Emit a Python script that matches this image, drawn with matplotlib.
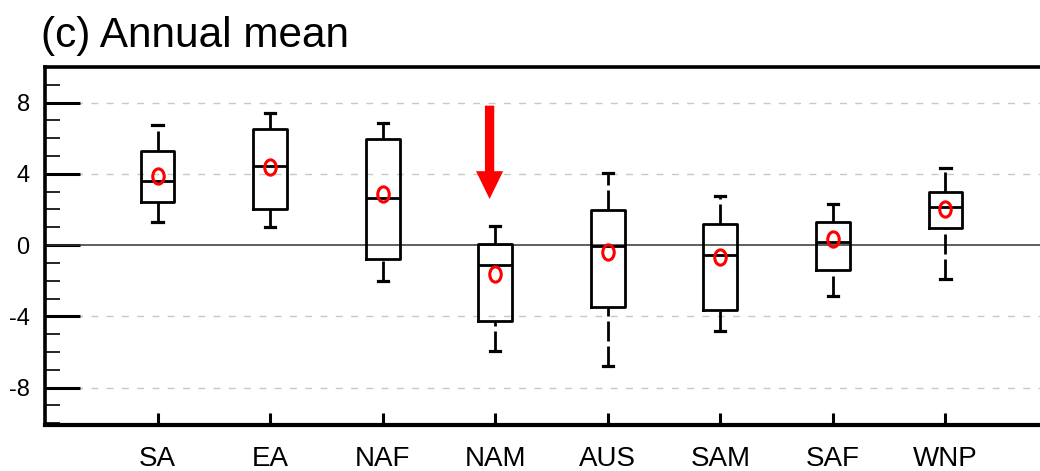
import matplotlib
matplotlib.use("Agg")
import matplotlib.pyplot as plt
import numpy as np
from matplotlib.path import Path
from matplotlib.patches import FancyArrowPatch
from matplotlib.transforms import Affine2D
from matplotlib.ticker import MultipleLocator

# ---------- Data ----------
regions = ["SA", "EA", "NAF", "NAM", "AUS", "SAM", "SAF", "WNP"]
whis_lo = [1.31, 1.03, -1.99, -5.93, -6.76, -4.85, -2.87, -1.93]
q1 = [2.44, 2.03, -0.79, -4.26, -3.47, -3.62, -1.41, 0.96]
median = [3.60, 4.43, 2.65, -1.09, -0.06, -0.58, 0.19, 2.12]
q3 = [5.26, 6.54, 5.93, 0.07, 1.97, 1.16, 1.31, 2.99]
whis_hi = [6.76, 7.42, 6.87, 1.09, 4.06, 2.76, 2.29, 4.32]
mean = [3.89, 4.39, 2.86, -1.61, -0.41, -0.64, 0.32, 2.03]

# red arrow pointing at NAM
arrow_region = "NAM"
arrow_top = 7.83
arrow_tip = 2.59
arrow_shift = -0.05

title = "(c) Annual mean"

# ---------- Figure ----------
plt.rcParams['font.family'] = ['Liberation Sans', 'DejaVu Sans']

fig = plt.figure(figsize=(10.4, 4.71), dpi=100)
ax = fig.add_axes([45 / 1040, 46 / 471, 1013 / 1040, 358 / 471])

pos = np.arange(1, len(regions) + 1)
stats = []
for i, name in enumerate(regions):
    stats.append(dict(label=name, whislo=whis_lo[i], q1=q1[i], med=median[i],
                      q3=q3[i], whishi=whis_hi[i], mean=mean[i], fliers=[]))

lw = 2.0
art = ax.bxp(stats, positions=pos, widths=0.30, showmeans=False, showfliers=False,
             boxprops=dict(color="black", linewidth=lw),
             medianprops=dict(color="black", linewidth=lw),
             whiskerprops=dict(color="black", linewidth=lw, linestyle=(0, (7.2, 1.8))),
             capprops=dict(color="black", linewidth=2.3),
             capwidths=0.09, manage_ticks=False, zorder=3)

# dashes start from the lower end of every whisker
for ln in art["whiskers"]:
    x, y = ln.get_data()
    if y[0] > y[1]:
        ln.set_data(x[::-1], y[::-1])

# mean markers: slightly tall red "o"
oval = Path.unit_circle().transformed(Affine2D().scale(0.75, 1.0))
ax.plot(pos, mean, linestyle="none", marker=oval, markersize=11,
        markerfacecolor="none", markeredgecolor="red", markeredgewidth=2.2, zorder=4)

# zero line and dashed grid
ax.axhline(0, color="#333333", linewidth=1.1, zorder=2)
for g in [-8, -4, 4, 8]:
    ax.axhline(g, color="#c8c8c8", linewidth=1.0, linestyle=(0, (5, 6)), zorder=1)

# arrow
ia = regions.index(arrow_region)
arr = FancyArrowPatch((pos[ia] + arrow_shift, arrow_top), (pos[ia] + arrow_shift, arrow_tip),
                      arrowstyle="simple,head_length=20,head_width=19.5,tail_width=6.7",
                      mutation_scale=1, color="red", linewidth=0, shrinkA=0, shrinkB=0,
                      zorder=5)
ax.add_patch(arr)

ax.set_xlim(0, len(regions) + 1)
ax.set_ylim(-10.1, 10.0)
ax.set_xticks(pos)
ax.set_xticklabels(regions, fontsize=20)
ax.set_yticks([-8, -4, 0, 4, 8])
ax.set_yticklabels(["-8", "-4", "0", "4", "8"], fontsize=17)
ax.yaxis.set_minor_locator(MultipleLocator(1))

ax.tick_params(axis="y", which="major", direction="in", length=25, width=2.2, pad=11)
ax.tick_params(axis="y", which="minor", direction="in", length=11, width=1.2)
ax.tick_params(axis="x", which="major", direction="in", length=9, width=2.2, pad=15)
ax.tick_params(axis="x", which="minor", bottom=False)

for s in ["left", "top"]:
    ax.spines[s].set_linewidth(2.6)
ax.spines["bottom"].set_linewidth(3.0)
ax.spines["right"].set_visible(False)

fig.text(41 / 1040, 1 - 47 / 471, title, fontsize=30.5, ha="left", va="baseline")

fig.savefig("out.png", dpi=100)
